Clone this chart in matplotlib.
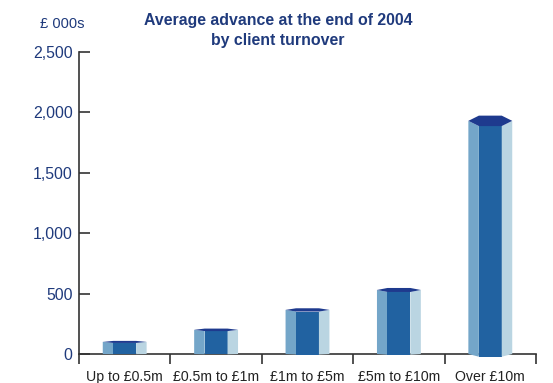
import matplotlib
matplotlib.use("Agg")
import matplotlib.pyplot as plt
from matplotlib.patches import Polygon

categories = ["Up to £0.5m", "£0.5m to £1m", "£1m to £5m", "£5m to £10m", "Over £10m"]
values = [100, 200, 365, 530, 1930]
yticks = [0, 500, 1000, 1500, 2000, 2500]
ytick_labels = ["0", "500", "1,000", "1,500", "2,000", "2,500"]
title = "Average advance at the end of 2004\nby client turnover"
unit_label = "£ 000s"

navy = "#1f3a7c"
c_left = "#74a6c9"
c_front = "#2162a1"
c_right = "#bad5e2"
c_cap = "#1e3a8e"
axc = "#333333"

plt.rcParams['font.family'] = ['Liberation Sans', 'DejaVu Sans']

fig = plt.figure(figsize=(5.53, 3.83), dpi=100)
ax = fig.add_axes([79/553, 1-354/383, (536-79)/553, (354-52)/383])
ax.set_xlim(-0.5, len(categories)-0.5)
ax.set_ylim(0, 2500)

px = 500/60.6  # data units per pixel (vertical)
half_w = 0.24
inner = 0.125
for i, v in enumerate(values):
    d = (0.8 + 0.0023*v) * px
    bd = (0.0014*v) * px
    x = i
    left = Polygon([(x-half_w, 0), (x-half_w, v), (x-inner, v-d), (x-inner, -bd)],
                   closed=True, facecolor=c_left, edgecolor='none', zorder=3, clip_on=False)
    front = Polygon([(x-inner, -bd), (x-inner, v-d), (x+inner, v-d), (x+inner, -bd)],
                    closed=True, facecolor=c_front, edgecolor='none', zorder=3, clip_on=False)
    right = Polygon([(x+inner, -bd), (x+inner, v-d), (x+half_w, v), (x+half_w, 0)],
                    closed=True, facecolor=c_right, edgecolor='none', zorder=3, clip_on=False)
    cap = Polygon([(x-half_w, v), (x-inner, v-d), (x+inner, v-d), (x+half_w, v),
                   (x+inner, v+d), (x-inner, v+d)],
                  closed=True, facecolor=c_cap, edgecolor='none', zorder=4, clip_on=False)
    for p in (left, front, right, cap):
        ax.add_patch(p)

for s in ("top", "right"):
    ax.spines[s].set_visible(False)
for s in ("left", "bottom"):
    ax.spines[s].set_color(axc)
    ax.spines[s].set_linewidth(1.2)

ax.set_yticks(yticks)
ax.set_yticklabels(ytick_labels)
ax.tick_params(axis='y', direction='in', length=8, width=1.2, color=axc,
               labelsize=11.4, labelcolor=navy, pad=4.5)

# category boundaries as ticks, labels at centres
ax.set_xticks([i - 0.5 for i in range(len(categories)+1)])
ax.set_xticklabels([])
ax.tick_params(axis='x', which='major', direction='out', length=7, width=1.2, color=axc)
ax.set_xticks(range(len(categories)), minor=True)
ax.set_xticklabels(categories, minor=True)
ax.tick_params(axis='x', which='minor', length=0, labelsize=10.2, labelcolor='#222222', pad=11.5)

fig.text(278/553, 1-30.5/383, title, ha='center', va='center', fontsize=11.4,
         fontweight='bold', color=navy, linespacing=1.35)
fig.text(84/553, 1-24.5/383, unit_label, ha='right', va='center', fontsize=10.5, color=navy)

fig.savefig("out.png", dpi=100)
